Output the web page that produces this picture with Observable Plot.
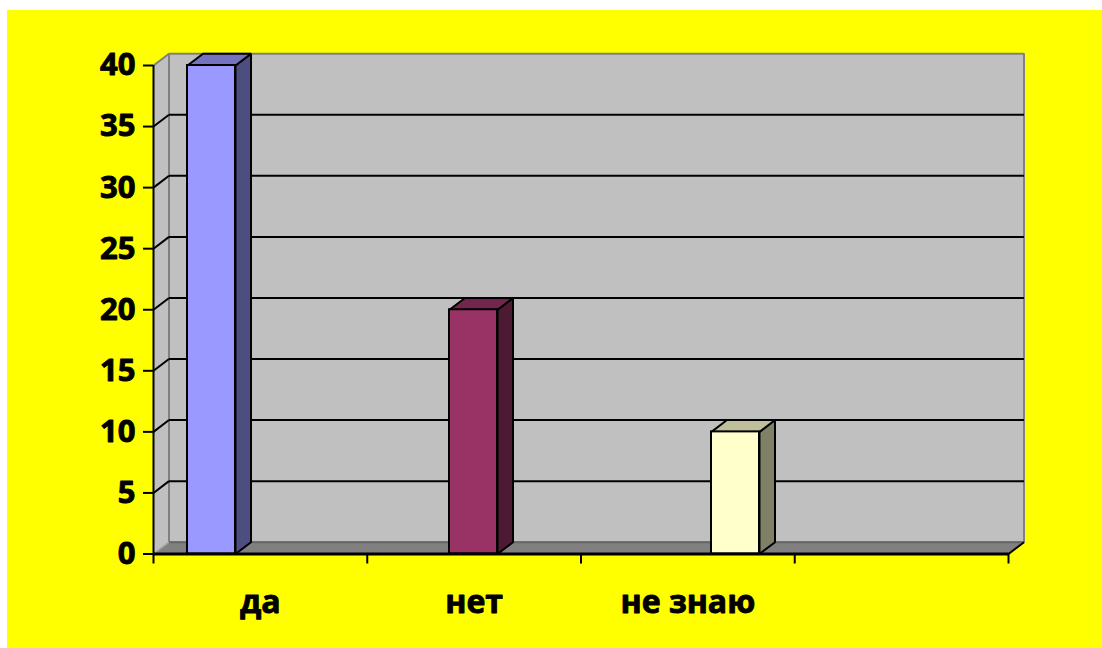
<!DOCTYPE html>
<html>
<head>
<meta charset="utf-8">
<script src="https://cdn.jsdelivr.net/npm/d3@7"></script>
<script src="https://cdn.jsdelivr.net/npm/@observablehq/plot@0.6"></script>
<style>
  html, body { margin: 0; padding: 0; background: #ffffff; }
  #page { position: relative; width: 1102px; height: 648px; overflow: hidden; }
  #bg { position: absolute; left: 7px; top: 10px; right: 0; bottom: 0; background: #ffff00; }
  #chart { position: absolute; left: 0; top: 0; }
</style>
</head>
<body>
<div id="page"><div id="bg"></div><div id="chart"></div></div>
<script>
// Survey answers
const categories = ["да", "нет", "не знаю", ""];
const answers = ["да", "нет", "не знаю"];
const values = [40, 20, 10];
const yTicks = [0, 5, 10, 15, 20, 25, 30, 35, 40];

// Bar colours: front face, top face, side face
const frontColors = ["#9999ff", "#993366", "#ffffcc"];
const topColors = ["#7373bf", "#73264d", "#bfbf99"];
const sideColors = ["#4d4d80", "#4d1a33", "#808066"];

// Layout of the front plane in pixels
const X_LEFT = 153, X_RIGHT = 1008, Y_BOTTOM = 553.5, Y_TOP = 65;
const nCat = categories.length;
const ux = (X_RIGHT - X_LEFT) / nCat;   // px per category unit
const uy = (Y_BOTTOM - Y_TOP) / 40;     // px per value unit
const px = p => p / ux;                  // horizontal px -> x units
const py = p => p / uy;                  // vertical px -> y units

// 3D depth offsets
const DX = px(15.5), DY = py(11.8);

// Bar placement within the plane (x units)
const BAR_OFFSET = px(34), BAR_STEP = px(262), BAR_W = px(48);

const FONT = "'Open Sans', 'Liberation Sans', sans-serif";
const textStyle = {fontWeight: "bold", fontFamily: FONT, fill: "#000", stroke: "#000", strokeWidth: 0.9};

function poly(points, opts) {
  const pts = points.map(([x, y]) => ({x, y}));
  pts.push(pts[0]);
  return Plot.line(pts, {x: "x", y: "y", curve: "linear", strokeLinejoin: "miter", strokeLinecap: "butt", ...opts});
}
function seg(a, b, opts) {
  return Plot.line([{x: a[0], y: a[1]}, {x: b[0], y: b[1]}], {x: "x", y: "y", strokeLinecap: "butt", ...opts});
}

const marks = [];

// Left side wall
marks.push(poly([[0, 0], [0, 40], [DX, 40 + DY], [DX, DY]], {fill: "#c0c0c0", stroke: "none"}));
// Back wall
marks.push(poly([[DX, DY], [nCat + DX, DY], [nCat + DX, 40 + DY], [DX, 40 + DY]], {fill: "#c0c0c0", stroke: "#808080", strokeWidth: 2}));
// Floor
marks.push(poly([[0, 0], [nCat, 0], [nCat + DX, DY], [DX, DY]], {fill: "#808080", stroke: "none"}));
marks.push(seg([DX, DY], [nCat + DX, DY], {stroke: "#666666", strokeWidth: 2}));
marks.push(seg([0, 0], [DX, DY], {stroke: "#a0a0a0", strokeWidth: 1.5}));
marks.push(seg([0, 40], [DX, 40 + DY], {stroke: "#808080", strokeWidth: 2}));

// Gridlines on the back wall and their diagonals on the side wall
for (const v of yTicks.filter(t => t > 0 && t < 40)) {
  marks.push(seg([DX, v + DY], [nCat + DX, v + DY], {stroke: "#000", strokeWidth: 2}));
  marks.push(seg([0, v], [DX, v + DY], {stroke: "#000", strokeWidth: 2}));
}

// Bars
values.forEach((v, i) => {
  const x1 = BAR_OFFSET + i * BAR_STEP, x2 = x1 + BAR_W;
  marks.push(poly([[x2, 0], [x2 + DX, DY], [x2 + DX, v + DY], [x2, v]], {fill: sideColors[i], stroke: "#000", strokeWidth: 2}));
  marks.push(poly([[x1, v], [x2, v], [x2 + DX, v + DY], [x1 + DX, v + DY]], {fill: topColors[i], stroke: "#000", strokeWidth: 2}));
  marks.push(Plot.rect([v], {x1: () => x1, x2: () => x2, y1: () => 0, y2: d => d, fill: frontColors[i], stroke: "#000", strokeWidth: 2}));
});

// Y axis
marks.push(Plot.ruleX([0], {y1: 0, y2: 40, stroke: "#000", strokeWidth: 2}));
marks.push(Plot.ruleY(yTicks, {x1: px(-10), x2: 0, stroke: "#000", strokeWidth: 2}));
marks.push(Plot.text(yTicks, {x: 0, y: d => d, text: d => String(d), dx: -18, textAnchor: "end",
  fontSize: 31, ...textStyle}));

// X axis
marks.push(seg([0, 0], [nCat, 0], {stroke: "#000", strokeWidth: 3}));
marks.push(seg([nCat, 0], [nCat + DX, DY], {stroke: "#000", strokeWidth: 2}));
marks.push(Plot.ruleX(d3.range(nCat + 1), {y1: 0, y2: py(-10), stroke: "#000", strokeWidth: 2}));
marks.push(Plot.text(categories.map((c, i) => ({c, i})), {x: d => d.i + 0.5, y: 0, text: "c",
  lineAnchor: "bottom", dy: 59, fontSize: 32, ...textStyle}));

const chart = Plot.plot({
  width: 1102,
  height: 648,
  margin: 0,
  x: {type: "linear", domain: [0, nCat], range: [X_LEFT, X_RIGHT], axis: null},
  y: {type: "linear", domain: [0, 40], range: [Y_BOTTOM, Y_TOP], axis: null},
  style: {background: "transparent", overflow: "visible"},
  marks
});
document.getElementById("chart").appendChild(chart);
</script>
</body>
</html>
